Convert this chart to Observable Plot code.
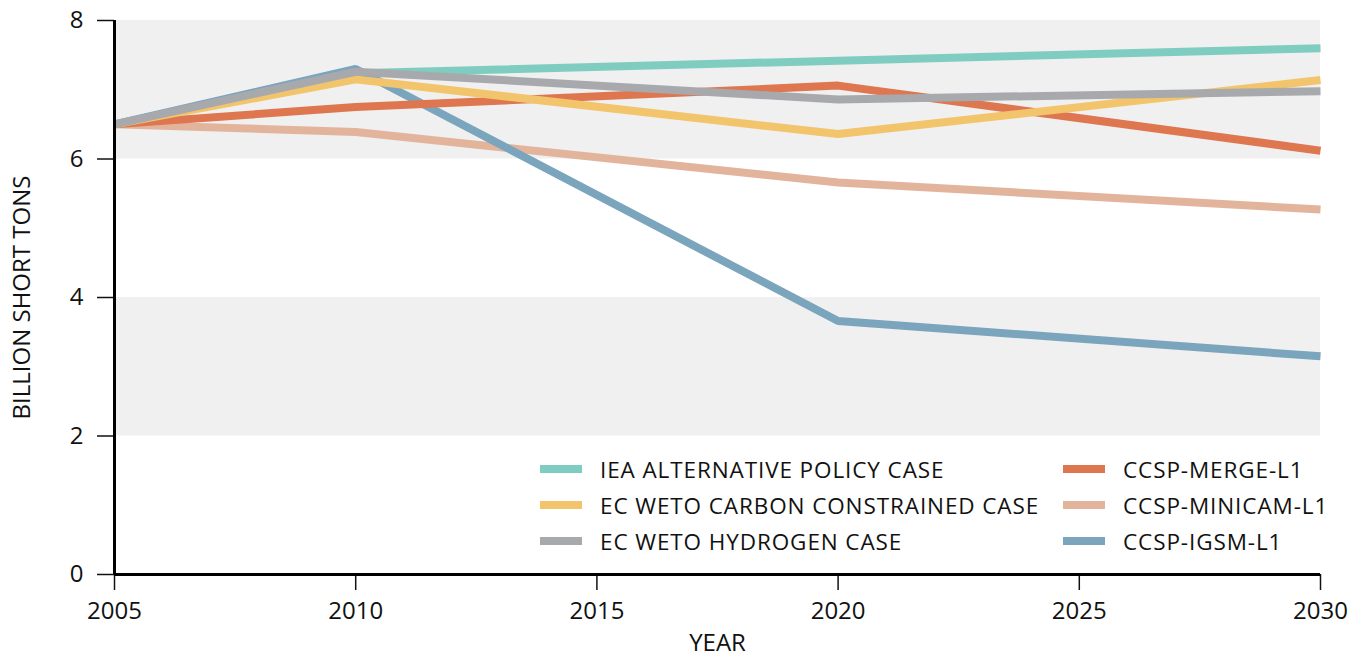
<!DOCTYPE html>
<html>
<head>
<meta charset="utf-8">
<script src="https://cdn.jsdelivr.net/npm/d3@7"></script>
<script src="https://cdn.jsdelivr.net/npm/@observablehq/plot@0.6"></script>
<style>
  html, body { margin: 0; padding: 0; background: #fff; }
  #wrap { position: relative; width: 1366px; height: 657px; font-family: "Open Sans", sans-serif; }
  #legend { position: absolute; left: 540px; top: 455px; display: grid; grid-template-columns: 523px auto; row-gap: 8px; font-size: 22.5px; letter-spacing: 0.9px; color: #111; }
  .item { display: flex; align-items: center; height: 28px; white-space: nowrap; }
  .sw { width: 42px; height: 8px; margin-right: 18px; flex: none; }
</style>
</head>
<body>
<div id="wrap"></div>
<script>
const years = [2005, 2010, 2020, 2030];
const seriesNames = [
  "IEA ALTERNATIVE POLICY CASE",
  "EC WETO CARBON CONSTRAINED CASE",
  "EC WETO HYDROGEN CASE",
  "CCSP-MERGE-L1",
  "CCSP-MINICAM-L1",
  "CCSP-IGSM-L1"
];
const iea     = [6.50, 7.24, 7.42, 7.60];
const ecCarb  = [6.50, 7.15, 6.36, 7.14];
const ecHydro = [6.50, 7.26, 6.86, 6.98];
const merge   = [6.50, 6.75, 7.06, 6.12];
const minicam = [6.50, 6.39, 5.66, 5.27];
const igsm    = [6.50, 7.30, 3.66, 3.15];
const colors = ["#7ecdc0", "#f2c46b", "#a8a9ad", "#de7650", "#e3b49c", "#7ba5bd"];
const yTicks = [0, 2, 4, 6, 8];
const xTicks = [2005, 2010, 2015, 2020, 2025, 2030];
const bands = [{lo: 6, hi: 8}, {lo: 2, hi: 4}];

const allSeries = [iea, ecCarb, ecHydro, merge, minicam, igsm];
const rows = [];
allSeries.forEach((vals, i) => vals.forEach((v, j) => rows.push({series: seriesNames[i], year: years[j], value: v})));
// drawing order (bottom to top)
const drawOrder = ["IEA ALTERNATIVE POLICY CASE", "CCSP-MINICAM-L1", "CCSP-IGSM-L1", "CCSP-MERGE-L1", "EC WETO CARBON CONSTRAINED CASE", "EC WETO HYDROGEN CASE"];

const chart = Plot.plot({
  width: 1366,
  height: 657,
  marginLeft: 114,
  marginRight: 46,
  marginTop: 20,
  marginBottom: 83,
  style: {fontFamily: "Open Sans, sans-serif", fontSize: "24px", color: "#111", background: "transparent"},
  x: {domain: [2005, 2030]},
  y: {domain: [0, 8]},
  color: {domain: seriesNames, range: colors},
  marks: [
    Plot.rectY(bands, {y1: "lo", y2: "hi", fill: "#f0f0f0"}),
    ...drawOrder.map(name => Plot.line(rows.filter(d => d.series === name), {
      x: "year", y: "value", stroke: "series", strokeWidth: 8, strokeLinejoin: "miter", strokeLinecap: "butt"
    })),
    Plot.axisY({ticks: yTicks, tickSize: 17, tickPadding: 14, strokeWidth: 1.5, label: "BILLION SHORT TONS", labelAnchor: "center", labelArrow: "none", labelOffset: 102, tickFormat: d => d}),
    Plot.axisX({ticks: xTicks, tickSize: 16, tickPadding: 11, strokeWidth: 1.5, label: "YEAR", labelAnchor: "center", labelArrow: "none", labelOffset: 76, tickFormat: d => String(d)}),
    Plot.ruleX([2005], {strokeWidth: 3, stroke: "#000"}),
    Plot.ruleY([0], {strokeWidth: 3, stroke: "#000"})
  ]
});
const wrap = document.getElementById("wrap");
wrap.appendChild(chart);

const legendOrder = [0, 3, 1, 4, 2, 5];
const legend = document.createElement("div");
legend.id = "legend";
legendOrder.forEach(i => {
  const item = document.createElement("div");
  item.className = "item";
  const sw = document.createElement("span");
  sw.className = "sw";
  sw.style.background = colors[i];
  const t = document.createElement("span");
  t.textContent = seriesNames[i];
  item.appendChild(sw);
  item.appendChild(t);
  legend.appendChild(item);
});
wrap.appendChild(legend);
</script>
</body>
</html>
